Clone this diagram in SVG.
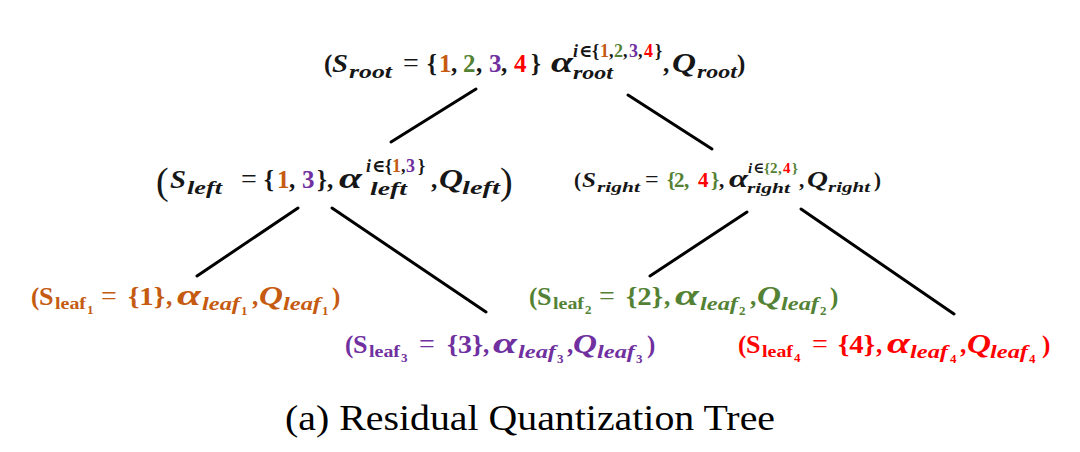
<svg xmlns="http://www.w3.org/2000/svg" width="1080" height="452" viewBox="0 0 1080 452">
<style>
.t{font-family:"Liberation Serif","DejaVu Serif",serif;font-weight:bold;fill:#161616}
.i{font-style:italic}
.cap{font-family:"Liberation Serif","Times New Roman",serif;font-size:36px;fill:#000}
.c1{fill:#C55A11}.c2{fill:#548235}.c3{fill:#7030A0}.c4{fill:#FF0000}
.edge{stroke:#000;stroke-width:3;stroke-linecap:round;fill:none}
</style>
<rect width="1080" height="452" fill="#fff"/>
<g id="connectors">
<line class="edge" x1="476" y1="89" x2="391" y2="142"/>
<line class="edge" x1="628" y1="95" x2="712" y2="149"/>
<line class="edge" x1="298" y1="208" x2="197" y2="276"/>
<line class="edge" x1="332" y1="208" x2="486" y2="312"/>
<line class="edge" x1="747" y1="212" x2="650" y2="276"/>
<line class="edge" x1="801" y1="209" x2="954" y2="314"/>
</g>
<g id="node-root">
<text class="t" font-size="25"><tspan x="324" y="72">(</tspan><tspan class="i" x="332" y="72" font-size="26" textLength="16" lengthAdjust="spacingAndGlyphs">S</tspan><tspan class="i" x="349" y="78" font-size="18" textLength="43" lengthAdjust="spacingAndGlyphs">root</tspan><tspan x="403" y="72" font-size="28" font-weight="normal">=</tspan><tspan x="427" y="72">{</tspan><tspan class="c1" x="439" y="72">1</tspan><tspan x="451" y="72">,</tspan><tspan class="c2" x="463" y="72">2</tspan><tspan x="476" y="72">,</tspan><tspan class="c3" x="489" y="72">3</tspan><tspan x="501" y="72">,</tspan><tspan class="c4" x="514" y="72">4</tspan><tspan x="531" y="72">}</tspan><tspan class="i" x="551" y="72" font-size="30" textLength="22" lengthAdjust="spacingAndGlyphs">α</tspan><tspan class="i" x="573" y="57" font-size="18">i</tspan><tspan x="579" y="57" font-size="18">∈</tspan><tspan x="592" y="57" font-size="18">{</tspan><tspan class="c1" x="600" y="57" font-size="18">1</tspan><tspan x="609" y="57" font-size="18">,</tspan><tspan class="c2" x="614" y="57" font-size="18">2</tspan><tspan x="623" y="57" font-size="18">,</tspan><tspan class="c3" x="629" y="57" font-size="18">3</tspan><tspan x="638" y="57" font-size="18">,</tspan><tspan class="c4" x="644" y="57" font-size="18">4</tspan><tspan x="655" y="57" font-size="18">}</tspan><tspan class="i" x="573" y="79" font-size="18" textLength="40" lengthAdjust="spacingAndGlyphs">root</tspan><tspan x="663" y="72">,</tspan><tspan class="i" x="672" y="72" font-size="27" textLength="24" lengthAdjust="spacingAndGlyphs">Q</tspan><tspan class="i" x="697" y="78" font-size="18" textLength="40" lengthAdjust="spacingAndGlyphs">root</tspan><tspan x="737" y="72">)</tspan></text>
</g>
<g id="node-left">
<text class="t" font-size="25"><tspan x="156" y="194" font-size="38" font-weight="normal">(</tspan><tspan class="i" x="170" y="188" font-size="26" textLength="16" lengthAdjust="spacingAndGlyphs">S</tspan><tspan class="i" x="187" y="194" font-size="18" textLength="35" lengthAdjust="spacingAndGlyphs">left</tspan><tspan x="241" y="188" font-size="28" font-weight="normal">=</tspan><tspan x="264" y="188">{</tspan><tspan class="c1" x="277" y="188">1</tspan><tspan x="289" y="188">,</tspan><tspan class="c3" x="302" y="188">3</tspan><tspan x="317" y="188">}</tspan><tspan x="327" y="188">,</tspan><tspan class="i" x="339" y="188" font-size="30" textLength="23" lengthAdjust="spacingAndGlyphs">α</tspan><tspan class="i" x="366" y="172" font-size="18">i</tspan><tspan x="372" y="172" font-size="18">∈</tspan><tspan x="385" y="172" font-size="18">{</tspan><tspan class="c1" x="392" y="172" font-size="18">1</tspan><tspan x="401" y="172" font-size="18">,</tspan><tspan class="c3" x="406" y="172" font-size="18">3</tspan><tspan x="418" y="172" font-size="18">}</tspan><tspan class="i" x="370" y="195" font-size="18" textLength="37" lengthAdjust="spacingAndGlyphs">left</tspan><tspan x="431" y="188">,</tspan><tspan class="i" x="439" y="188" font-size="27" textLength="24" lengthAdjust="spacingAndGlyphs">Q</tspan><tspan class="i" x="462" y="194" font-size="18" textLength="38" lengthAdjust="spacingAndGlyphs">left</tspan><tspan x="500" y="194" font-size="38" font-weight="normal">)</tspan></text>
</g>
<g id="node-right">
<text class="t" font-size="21"><tspan x="574" y="187">(</tspan><tspan class="i" x="582" y="187" font-size="22" textLength="14" lengthAdjust="spacingAndGlyphs">S</tspan><tspan class="i" x="597" y="192" font-size="15" textLength="43" lengthAdjust="spacingAndGlyphs">right</tspan><tspan x="645" y="187" font-size="24" font-weight="normal">=</tspan><tspan class="c2" x="667" y="187">{</tspan><tspan class="c2" x="674" y="187">2</tspan><tspan class="c2" x="684" y="187">,</tspan><tspan class="c4" x="698" y="187">4</tspan><tspan class="c2" x="711" y="187">}</tspan><tspan x="719" y="187">,</tspan><tspan class="i" x="729" y="187" font-size="25" textLength="19" lengthAdjust="spacingAndGlyphs">α</tspan><tspan class="i" x="748" y="173" font-size="15">i</tspan><tspan x="753" y="173" font-size="15">∈</tspan><tspan class="c2" x="764" y="173" font-size="15">{</tspan><tspan class="c2" x="770" y="173" font-size="15">2</tspan><tspan class="c2" x="778" y="173" font-size="15">,</tspan><tspan class="c4" x="783" y="173" font-size="15">4</tspan><tspan class="c2" x="792" y="173" font-size="15">}</tspan><tspan class="i" x="747" y="193" font-size="15" textLength="43" lengthAdjust="spacingAndGlyphs">right</tspan><tspan x="799" y="187">,</tspan><tspan class="i" x="807" y="187" font-size="23" textLength="21" lengthAdjust="spacingAndGlyphs">Q</tspan><tspan class="i" x="828" y="192" font-size="15" textLength="42" lengthAdjust="spacingAndGlyphs">right</tspan><tspan x="874" y="187">)</tspan></text>
</g>
<g id="node-leaf1" transform="translate(31,305)">
<text class="t c1" font-size="25"><tspan x="0" y="0">(</tspan><tspan x="8" y="0" font-size="26">S</tspan><tspan x="24" y="4" font-size="17" textLength="31" lengthAdjust="spacingAndGlyphs">leaf</tspan><tspan x="56" y="9" font-size="13">1</tspan><tspan x="70" y="0" font-size="28" font-weight="normal">=</tspan><tspan x="97" y="0" font-size="26" textLength="37" lengthAdjust="spacingAndGlyphs">{1}</tspan><tspan x="135" y="0">,</tspan><tspan class="i" x="146" y="0" font-size="30" textLength="24" lengthAdjust="spacingAndGlyphs">α</tspan><tspan class="i" x="171" y="5" font-size="18" textLength="38" lengthAdjust="spacingAndGlyphs">leaf</tspan><tspan x="210" y="10" font-size="13">1</tspan><tspan x="221" y="0">,</tspan><tspan class="i" x="228" y="0" font-size="27" textLength="24" lengthAdjust="spacingAndGlyphs">Q</tspan><tspan class="i" x="252" y="5" font-size="18" textLength="38" lengthAdjust="spacingAndGlyphs">leaf</tspan><tspan x="291" y="10" font-size="13">1</tspan><tspan x="301" y="0">)</tspan></text>
</g>
<g id="node-leaf2" transform="translate(529,305)">
<text class="t c2" font-size="25"><tspan x="0" y="0">(</tspan><tspan x="8" y="0" font-size="26">S</tspan><tspan x="24" y="4" font-size="17" textLength="31" lengthAdjust="spacingAndGlyphs">leaf</tspan><tspan x="56" y="9" font-size="13">2</tspan><tspan x="70" y="0" font-size="28" font-weight="normal">=</tspan><tspan x="97" y="0" font-size="26" textLength="37" lengthAdjust="spacingAndGlyphs">{2}</tspan><tspan x="135" y="0">,</tspan><tspan class="i" x="146" y="0" font-size="30" textLength="24" lengthAdjust="spacingAndGlyphs">α</tspan><tspan class="i" x="171" y="5" font-size="18" textLength="38" lengthAdjust="spacingAndGlyphs">leaf</tspan><tspan x="210" y="10" font-size="13">2</tspan><tspan x="221" y="0">,</tspan><tspan class="i" x="228" y="0" font-size="27" textLength="24" lengthAdjust="spacingAndGlyphs">Q</tspan><tspan class="i" x="252" y="5" font-size="18" textLength="38" lengthAdjust="spacingAndGlyphs">leaf</tspan><tspan x="291" y="10" font-size="13">2</tspan><tspan x="301" y="0">)</tspan></text>
</g>
<g id="node-leaf3" transform="translate(345,353)">
<text class="t c3" font-size="25"><tspan x="0" y="0">(</tspan><tspan x="8" y="0" font-size="26">S</tspan><tspan x="24" y="4" font-size="17" textLength="31" lengthAdjust="spacingAndGlyphs">leaf</tspan><tspan x="56" y="9" font-size="13">3</tspan><tspan x="74" y="0" font-size="28" font-weight="normal">=</tspan><tspan x="102" y="0" font-size="26" textLength="36" lengthAdjust="spacingAndGlyphs">{3}</tspan><tspan x="138" y="0">,</tspan><tspan class="i" x="148" y="0" font-size="30" textLength="24" lengthAdjust="spacingAndGlyphs">α</tspan><tspan class="i" x="173" y="5" font-size="18" textLength="38" lengthAdjust="spacingAndGlyphs">leaf</tspan><tspan x="212" y="10" font-size="13">3</tspan><tspan x="222" y="0">,</tspan><tspan class="i" x="228" y="0" font-size="27" textLength="24" lengthAdjust="spacingAndGlyphs">Q</tspan><tspan class="i" x="252" y="5" font-size="18" textLength="38" lengthAdjust="spacingAndGlyphs">leaf</tspan><tspan x="291" y="10" font-size="13">3</tspan><tspan x="302" y="0">)</tspan></text>
</g>
<g id="node-leaf4" transform="translate(738,353)">
<text class="t c4" font-size="25"><tspan x="0" y="0">(</tspan><tspan x="8" y="0" font-size="26">S</tspan><tspan x="24" y="4" font-size="17" textLength="31" lengthAdjust="spacingAndGlyphs">leaf</tspan><tspan x="56" y="9" font-size="13">4</tspan><tspan x="74" y="0" font-size="28" font-weight="normal">=</tspan><tspan x="100" y="0" font-size="26" textLength="37" lengthAdjust="spacingAndGlyphs">{4}</tspan><tspan x="138" y="0">,</tspan><tspan class="i" x="149" y="0" font-size="30" textLength="23" lengthAdjust="spacingAndGlyphs">α</tspan><tspan class="i" x="172" y="5" font-size="18" textLength="38" lengthAdjust="spacingAndGlyphs">leaf</tspan><tspan x="212" y="10" font-size="13">4</tspan><tspan x="222" y="0">,</tspan><tspan class="i" x="229" y="0" font-size="27" textLength="24" lengthAdjust="spacingAndGlyphs">Q</tspan><tspan class="i" x="252" y="5" font-size="18" textLength="38" lengthAdjust="spacingAndGlyphs">leaf</tspan><tspan x="291" y="10" font-size="13">4</tspan><tspan x="304" y="0">)</tspan></text>
</g>
<g id="caption">
<text class="cap" x="285" y="430" textLength="490" lengthAdjust="spacingAndGlyphs">(a) Residual Quantization Tree</text>
</g>
</svg>
